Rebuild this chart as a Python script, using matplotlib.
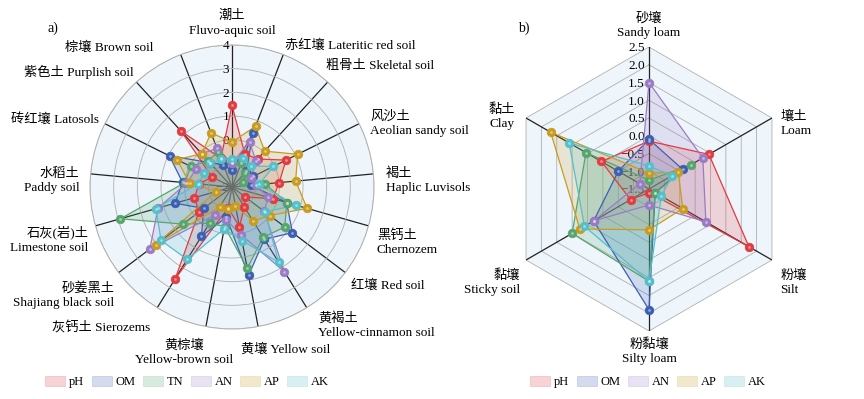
import numpy as np
import matplotlib.pyplot as plt
from matplotlib.patches import Patch

plt.rcParams['font.family'] = ['Liberation Serif', 'Noto Sans CJK SC']
plt.rcParams['axes.unicode_minus'] = True

# ---------------- data ----------------
soil_a = ['潮土\nFluvo-aquic soil', '赤红壤 Lateritic red soil', '粗骨土 Skeletal soil',
          '风沙土\nAeolian sandy soil', '褐土\nHaplic Luvisols', '黑钙土\nChernozem',
          '红壤 Red soil', '黄褐土\nYellow-cinnamon soil', '黄壤 Yellow soil',
          '黄棕壤\nYellow-brown soil', '灰钙土 Sierozems', '砂姜黑土\nShajiang black soil',
          '石灰(岩)土\nLimestone soil', '水稻土\nPaddy soil', '砖红壤 Latosols',
          '紫色土 Purplish soil', '棕壤 Brown soil']

ph_a = [1.45, -0.5, -0.4, 0.55, 0.0, -0.2, -1.3, -1.0, -0.3, -1.1, 2.55, -0.25, -0.35, -0.6, -1.05, 1.2, -0.7]
om_a = [-1.3, 0.45, -1.1, -1.0, -1.2, 0.4, 1.2, 0.6, 1.8, -0.7, 0.45, -0.5, 0.5, 0.1, 0.95, -0.6, -1.0]
tn_a = [-1.0, -0.9, -1.2, -1.5, -0.6, 0.4, 0.8, 0.5, 1.5, -0.3, -0.2, 0.6, 2.9, 0.0, -0.05, -0.5, -0.4]
an_a = [-1.0, 0.05, -0.5, -1.1, -1.0, -0.4, -0.3, 2.2, 0.05, -0.6, -0.6, 2.35, 1.25, -0.1, -0.3, -0.1, -0.25]
ap_a = [-0.1, 0.75, 0.05, 1.1, 0.7, 1.3, 0.0, -0.3, -1.2, -1.05, -1.0, 2.05, -1.3, -0.2, 0.6, -0.1, 0.45]
ak_a = [-0.8, -0.7, -0.8, -0.05, -0.85, 0.8, -0.25, 1.75, 0.3, -0.2, 1.6, 1.75, 1.35, -0.55, -0.7, -0.65, -0.75]

soil_b = ['砂壤\nSandy loam', '壤土\nLoam', '粉壤\nSilt', '粉黏壤\nSilty loam', '黏壤\nSticky soil', '黏土\nClay']
ph_b = [-0.15, 0.45, 1.75, -1.4, -0.9, 0.05]
om_b = [-0.1, -0.4, -1.3, 1.9, 0.3, -0.5]
tn_b = [-1.25, -0.15, -1.3, 1.1, 1.0, 0.55]
an_b = [1.5, 0.25, 0.35, -1.05, 0.3, -1.2]
ap_b = [-1.05, -0.55, -0.4, -0.35, 0.75, 1.7]
ak_b = [-0.85, -0.75, -1.1, 1.1, 0.6, 1.1]

ticks_a = [-2, -1, 0, 1, 2, 3, 4]
ticks_b = [-1.5, -1.0, -0.5, 0.0, 0.5, 1.0, 1.5, 2.0, 2.5]

names = ['pH', 'OM', 'TN', 'AN', 'AP', 'AK']
colors = ['#e23b40', '#3d5fb2', '#56a56c', '#9a7cc6', '#c89c1e', '#55bfcc']

# ---------------- label layout ----------------
ha_a = ['center', 'left', 'left', 'left', 'left', 'left', 'left', 'left', 'left', 'center',
        'right', 'right', 'right', 'right', 'right', 'right', 'right']
va_a = ['bottom', 'bottom', 'bottom', 'center', 'center', 'center', 'center', 'top', 'top', 'top',
        'top', 'top', 'center', 'center', 'center', 'center', 'center']
off_a = [(0, 6), (1, 2), (-1, 7), (8, 0), (9, -5), (6, -12), (4, -9), (8, -3), (-12, -12), (-16, -9),
         (-5, -10), (-3, -7), (-5, -10), (-8, -5), (-4, 3), (-2, 7), (-20, 5)]
ha_b = ['center', 'left', 'left', 'center', 'right', 'right']
va_b = ['bottom', 'center', 'center', 'top', 'center', 'center']
off_b = [(0, 6), (6, -4), (6, -16), (0, -5), (-4, -16), (-8, 1)]

fig = plt.figure(figsize=(8.64, 3.99), dpi=100)
ax1 = fig.add_axes([90 / 864, 70 / 399, 284 / 864, 284 / 399], projection='polar')
ax2 = fig.add_axes([507 / 864, 68 / 399, 284 / 864, 284 / 399], projection='polar')


def draw_series(ax, ang, series, cols):
    for vals, c in zip(series, cols):
        a = np.append(ang, ang[0])
        v = np.append(vals, vals[0])
        ax.fill(a, v, color=c, alpha=0.18, lw=0, zorder=3)
        ax.plot(a, v, color=c, lw=0.9, zorder=4)
        ax.plot(ang, vals, 'o', ms=6.2, mfc=c, mec=c, mew=0.5, zorder=5)
        ax.plot(ang, vals, 'o', ms=2, mfc='white', mec='none', alpha=0.45, zorder=6)


def place_labels(ax, ang, labels, rmax, has, vas, offs):
    for a, t, h, v, o in zip(ang, labels, has, vas, offs):
        ax.annotate(t, xy=(a, rmax), xytext=o, textcoords='offset points',
                    ha=h, va=v, fontsize=9.5, annotation_clip=False, linespacing=1.25)


# ---------------- left chart (circular) ----------------
n = len(soil_a)
ang_a = np.arange(n) * 2 * np.pi / n
ax1.set_theta_offset(np.pi / 2)
ax1.set_theta_direction(-1)
ax1.set_ylim(-2, 4)
ax1.set_xticks(ang_a)
ax1.set_xticklabels([])
ax1.set_yticks(ticks_a)
ax1.set_yticklabels([])
ax1.xaxis.grid(True, color='#222222', lw=0.9)
ax1.yaxis.grid(True, color='#b0b0b0', lw=0.6)
ax1.set_facecolor('#eef5fb')
ax1.spines['polar'].set_color('#b0b0b0')
ax1.spines['polar'].set_linewidth(0.7)
for t in ticks_a:
    ax1.annotate(str(t).replace('-', '\u2212'), xy=(0, t), xytext=(-2, -1), textcoords='offset points',
                 ha='right', va='center', fontsize=9.5, zorder=2)
draw_series(ax1, ang_a, [ph_a, om_a, tn_a, an_a, ap_a, ak_a], colors)
place_labels(ax1, ang_a, soil_a, 4, ha_a, va_a, off_a)

# ---------------- right chart (hexagon) ----------------
m = len(soil_b)
ang_b = np.arange(m) * 2 * np.pi / m
ax2.set_theta_offset(np.pi / 2)
ax2.set_theta_direction(-1)
ax2.set_ylim(-1.5, 2.5)
ax2.grid(False)
ax2.set_xticks([])
ax2.set_yticks([])
ax2.spines['polar'].set_visible(False)
ax2.patch.set_alpha(0)
closed = np.append(ang_b, ang_b[0])
ax2.fill(closed, [2.5] * (m + 1), color='#eef5fb', lw=0, zorder=0)
for t in ticks_b[1:]:
    ax2.plot(closed, [t] * (m + 1), color='#b0b0b0', lw=0.6, zorder=1)
for a in ang_b:
    ax2.plot([a, a], [-1.5, 2.5], color='#222222', lw=0.9, zorder=1)
for t in ticks_b:
    ax2.annotate(f'{t:.1f}'.replace('-', '\u2212'), xy=(0, t), xytext=(-3, -1), textcoords='offset points',
                 ha='right', va='center', fontsize=9.5, zorder=2)
draw_series(ax2, ang_b, [ph_b, om_b, tn_b, an_b, ap_b, ak_b], colors)
place_labels(ax2, ang_b, soil_b, 2.5, ha_b, va_b, off_b)

# ---------------- panel letters and legends ----------------
fig.text(48 / 864, 1 - 28 / 399, 'a)', fontsize=10, va='center')
fig.text(518 / 864, 1 - 28 / 399, 'b)', fontsize=10, va='center')

h_a = [Patch(facecolor=c, edgecolor=c, alpha=0.22, lw=0.6) for c in colors]
fig.legend(h_a, names, loc='center', bbox_to_anchor=(187 / 864, 17 / 399), ncol=6, frameon=False,
           fontsize=9, handlelength=1.6, handleheight=0.8, handletextpad=0.3, columnspacing=0.6)
keep = [0, 1, 3, 4, 5]
fig.legend([h_a[i] for i in keep], [names[i] for i in keep], loc='center',
           bbox_to_anchor=(648 / 864, 17 / 399), ncol=5, frameon=False,
           fontsize=9, handlelength=1.6, handleheight=0.8, handletextpad=0.3, columnspacing=0.6)

fig.savefig('out.png', dpi=100)
